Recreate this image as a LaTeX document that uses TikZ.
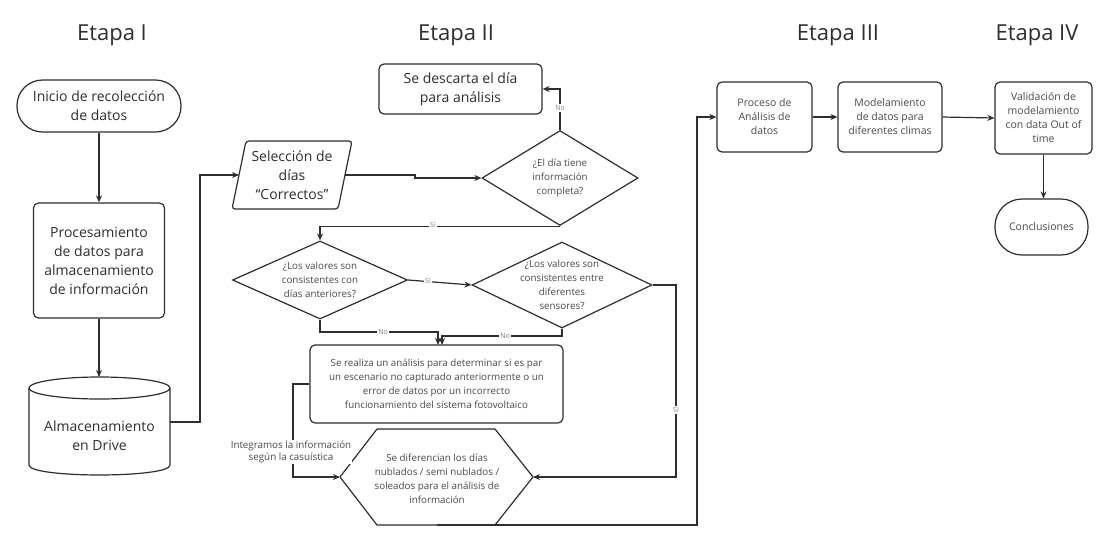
\documentclass[tikz,border=0pt]{standalone}
\usepackage{fontspec}
\setmainfont{Open Sans}
\usetikzlibrary{arrows.meta,calc,shapes.geometric}
\definecolor{ink}{HTML}{2E2E2E}
\definecolor{soft}{HTML}{4A4A4A}
\begin{document}
\begin{tikzpicture}[x=1pt,y=-1pt,
 line/.style={draw=ink,line width=1.2pt},
 arr/.style={line,-{Stealth[length=7pt,width=6pt]}},
 box/.style={draw=ink,line width=1.2pt,rounded corners=5pt,align=center,inner sep=0pt},
 dia/.style={draw=ink,line width=1.2pt,diamond,inner sep=0pt},
 big/.style={font=\fontsize{14}{19}\selectfont,text=ink},
 small/.style={font=\fontsize{10.5}{14}\selectfont,text=soft},
 tiny/.style={font=\fontsize{9.8}{14}\selectfont,text=soft,align=center},
 lbl/.style={font=\fontsize{7}{8}\selectfont,text=gray,fill=white,inner sep=1pt},
 title/.style={font=\fontsize{22}{26}\selectfont,text=ink}
]
\useasboundingbox (0,0) rectangle (1102,533);
\fill[white] (0,0) rectangle (1102,533);

% titles
\node[title] (t1) at (112,35) {Etapa I};
\node[title] (t2) at (456,35) {Etapa II};
\node[title] (t3) at (838,35) {Etapa III};
\node[title] (t4) at (1037,35) {Etapa IV};

% Etapa I
\node[box,big,rounded corners=25.5pt,minimum width=164pt,minimum height=52pt] (start) at (99,106) {Inicio de recolección\\de datos};
\node[box,big,minimum width=131pt,minimum height=115pt] (procesa) at (99,260.5) {Procesamiento\\de datos para\\almacenamiento\\de información};
\draw[line] (29,388) -- (29,465) .. controls (29,478.3) and (170,478.3) .. (170,465) -- (170,388);
\draw[line] (99.5,388) ellipse [x radius=70.5, y radius=11];
\node[big,align=center] (drive) at (99.5,436) {Almacenamiento\\en Drive};
\coordinate (driveN) at (99,377);
\coordinate (driveE) at (170,422);

\draw[arr] (start.south) -- (procesa.north);
\draw[arr] (procesa.south) -- (driveN);

% Etapa II
\draw[line,rounded corners=3pt] (246,141) -- (352,141) -- (338,209) -- (232,209) -- cycle;
\node[big,align=center] (sel) at (292,175) {Selección de\\días\\“Correctos”};
\coordinate (selW) at (239,175);
\coordinate (selE) at (345,175);
\draw[arr] (driveE) -- (200,422) |- (selW);

\node[box,big,minimum width=163pt,minimum height=50pt] (disc) at (460.5,89) {Se descarta el día\\para análisis};

\node[dia,minimum width=156pt,minimum height=95pt] (d1) at (560,178) {};
\node[tiny] (d1t) at (d1) {¿El día tiene\\información\\completa?};

\node[dia,minimum width=175pt,minimum height=78pt] (d2) at (320,280) {};
\node[tiny] (d2t) at (d2) {¿Los valores son\\consistentes con\\días anteriores?};

\node[dia,minimum width=180pt,minimum height=86pt] (d3) at (562,285) {};
\node[tiny] (d3t) at (d3) {¿Los valores son\\consistentes entre\\diferentes\\sensores?};

\node[box,tiny,minimum width=253pt,minimum height=78pt] (anal) at (436.5,384) {Se realiza un análisis para determinar si es par\\un escenario no capturado anteriormente o un\\error de datos por un incorrecto\\funcionamiento del sistema fotovoltaico};
\coordinate (analN1) at (438,345);
\coordinate (analN2) at (442,345);

\draw[line,line join=round] (340,477) -- (377,429) -- (495,429) -- (533,477) -- (495,525) -- (377,525) -- cycle;
\node[tiny] (hex) at (437,479) {Se diferencian los días\\nublados / semi nublados /\\soleados para el análisis de\\información};
\coordinate (hexW) at (340,477);
\coordinate (hexE) at (533,477);
\coordinate (hexS) at (437,525);

\draw[arr] (selE) -- (415,175) |- (d1.west);
\draw[arr] (d1.north) |- (disc.east);
\node[lbl] (l1) at (560,108) {No};
\draw[arr] (d1.south) -| (d2.north);
\node[lbl] (l2) at (433,225) {Sí};
\draw[arr] (d2.east) -- (d3.west);
\node[lbl] (l3) at (428,281) {Sí};
\draw[arr] (d2.south) -- (320,332) -| (analN1);
\node[lbl] (l4) at (383,332) {No};
\draw[arr] (d3.south) -- (562,336) -| (analN2);
\node[lbl] (l5) at (505,336) {No};
\draw[arr] (d3.east) -- (676,285) |- (hexE);
\node[lbl] (l6) at (676,410) {Sí};
\draw[arr] (anal.west) -- (293,384) |- (hexW);
\node[font=\fontsize{9.8}{12}\selectfont,text=soft,align=center,fill=white,inner sep=1pt] (integ) at (291,452) {Integramos la información\\según la casuística};

% Etapa III
\node[box,small,minimum width=95pt,minimum height=70pt] (proc) at (764.5,117) {Proceso de\\Análisis de\\datos};
\node[box,small,minimum width=104pt,minimum height=70pt] (model) at (890,117) {Modelamiento\\de datos para\\diferentes climas};
\draw[arr] (hexS) -| (697,117) -- (proc.west);
\draw[arr] (proc.east) -- (model.west);

% Etapa IV
\node[box,small,minimum width=97pt,minimum height=72pt] (valid) at (1043.5,118) {Validación de\\modelamiento\\con data Out of\\time};
\node[box,small,rounded corners=27pt,minimum width=93pt,minimum height=56pt] (concl) at (1041.5,227) {Conclusiones};
\draw[arr] (model.east) -- (valid.west);
\draw[arr] (valid.south) -- (valid.south |- concl.north);
\end{tikzpicture}
\end{document}
